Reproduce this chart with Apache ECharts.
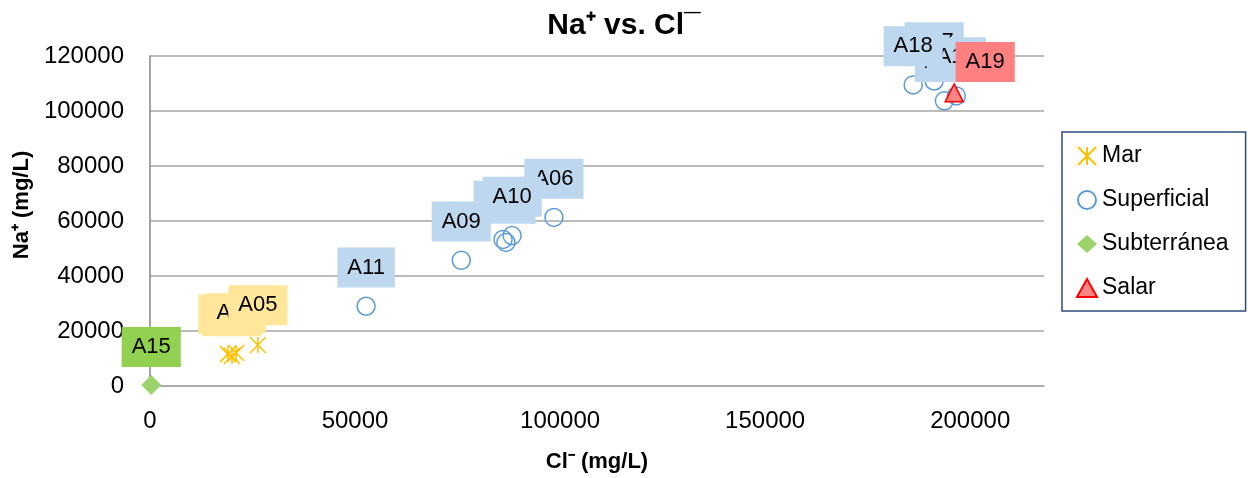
<!DOCTYPE html>
<html>
<head>
<meta charset="utf-8">
<script src="https://cdn.jsdelivr.net/npm/echarts@6/dist/echarts.min.js"></script>
<style>
  html, body { margin: 0; padding: 0; background: #ffffff; }
  #chart { width: 1248px; height: 478px; }
</style>
</head>
<body>
<div id="chart"></div>
<script>
// Sample codes with chloride (Cl-) and sodium (Na+) concentrations, mg/L
const marNames = ['A02', 'A03', 'A04', 'A05'];
const marCl = [19000, 20000, 21000, 26300];
const marNa = [11600, 10900, 12000, 14900];

const supNames = ['A11', 'A07', 'A08', 'A09', 'A06', 'A10', 'A17', 'A20', 'A16', 'A18'];
const supCl = [52700, 86100, 86800, 75900, 98500, 88300, 191200, 193700, 196600, 186100];
const supNa = [29000, 53300, 52200, 45700, 61300, 54700, 110900, 103700, 105500, 109500];

const subNames = ['A15'];
const subCl = [300];
const subNa = [400];

const salNames = ['A19'];
const salCl = [196100];
const salNa = [106600];

const seriesNames = ['Mar', 'Superficial', 'Subterránea', 'Salar'];

const FONT = '"Liberation Sans", Arial, sans-serif';

function points(names, xs, ys) {
  return names.map((n, i) => ({ name: n, value: [xs[i], ys[i]] }));
}

function boxLabel(bg, distance, offset) {
  return {
    show: true,
    position: 'top',
    distance: distance,
    offset: offset || [0, 0],
    formatter: p => p.name,
    fontFamily: FONT,
    fontSize: 22,
    lineHeight: 22,
    color: '#000000',
    backgroundColor: bg,
    padding: [9, 10, 9, 10]
  };
}

const plain = v => String(v);

const chart = echarts.init(document.getElementById('chart'), null, { renderer: 'canvas' });

chart.setOption({
  animation: false,
  backgroundColor: '#ffffff',
  title: {
    text: 'Na⁺ vs. Cl¯',
    left: 'center',
    top: 6,
    textStyle: { fontFamily: FONT, fontSize: 30, fontWeight: 'bold', color: '#000000' }
  },
  legend: {
    orient: 'vertical',
    left: 1062,
    top: 132,
    padding: [12, 17, 11, 14],
    itemGap: 20,
    itemWidth: 20,
    itemHeight: 18,
    borderColor: '#2F4B7C',
    borderWidth: 1.5,
    data: seriesNames,
    textStyle: { fontFamily: FONT, fontSize: 23, lineHeight: 24, color: '#000000' }
  },
  grid: { left: 150, right: 204, top: 56, bottom: 91, containLabel: false },
  xAxis: {
    type: 'value',
    min: 0,
    max: 218000,
    interval: 50000,
    name: 'Cl⁻ (mg/L)',
    nameLocation: 'middle',
    nameGap: 65,
    nameTextStyle: { fontFamily: FONT, fontSize: 22, fontWeight: 'bold', color: '#000000' },
    axisLine: { show: true, onZero: false, lineStyle: { color: '#A6A6A6', width: 1.5 } },
    axisTick: { show: false },
    splitLine: { show: false },
    axisLabel: {
      showMaxLabel: false,
      margin: 23,
      formatter: plain,
      fontFamily: FONT,
      fontSize: 24,
      color: '#000000'
    }
  },
  yAxis: {
    type: 'value',
    min: 0,
    max: 120000,
    interval: 20000,
    name: 'Na⁺ (mg/L)',
    nameLocation: 'middle',
    nameGap: 111,
    nameTextStyle: {
      fontFamily: FONT, fontSize: 22, fontWeight: 'bold', color: '#000000',
      padding: [0, 0, 0, 32]
    },
    axisLine: { show: true, lineStyle: { color: '#868686', width: 1.5 } },
    axisTick: { show: false },
    splitLine: { show: true, lineStyle: { color: '#A6A6A6', width: 1.5 } },
    axisLabel: { margin: 26, formatter: plain, fontFamily: FONT, fontSize: 24, color: '#000000' }
  },
  series: [
    {
      name: 'Mar',
      type: 'scatter',
      symbol: 'path://M0,0L10,10M10,0L0,10M5,0L5,10',
      symbolSize: 16,
      itemStyle: { opacity: 1, color: 'rgba(0,0,0,0)', borderColor: '#FFC000', borderWidth: 1.5 },
      label: boxLabel('#FFE699', 11),
      data: points(marNames, marCl, marNa)
    },
    {
      name: 'Superficial',
      type: 'scatter',
      symbol: 'circle',
      symbolSize: 18,
      itemStyle: { opacity: 1, color: 'rgba(255,255,255,0)', borderColor: '#5B9BD5', borderWidth: 1.5 },
      label: boxLabel('#BDD7EE', 9),
      data: points(supNames, supCl, supNa)
    },
    {
      name: 'Subterránea',
      type: 'scatter',
      symbol: 'diamond',
      symbolSize: 20,
      itemStyle: { opacity: 1, color: '#9DD36B', borderColor: '#9DD36B', borderWidth: 0 },
      label: boxLabel('#92D050', 8),
      data: points(subNames, subCl, subNa)
    },
    {
      name: 'Salar',
      type: 'scatter',
      symbol: 'triangle',
      symbolSize: 18,
      itemStyle: { opacity: 1, color: '#FF8585', borderColor: '#FF0000', borderWidth: 1.5 },
      label: boxLabel('#FF8080', 1, [31, 0]),
      data: points(salNames, salCl, salNa)
    }
  ]
});
</script>
</body>
</html>
